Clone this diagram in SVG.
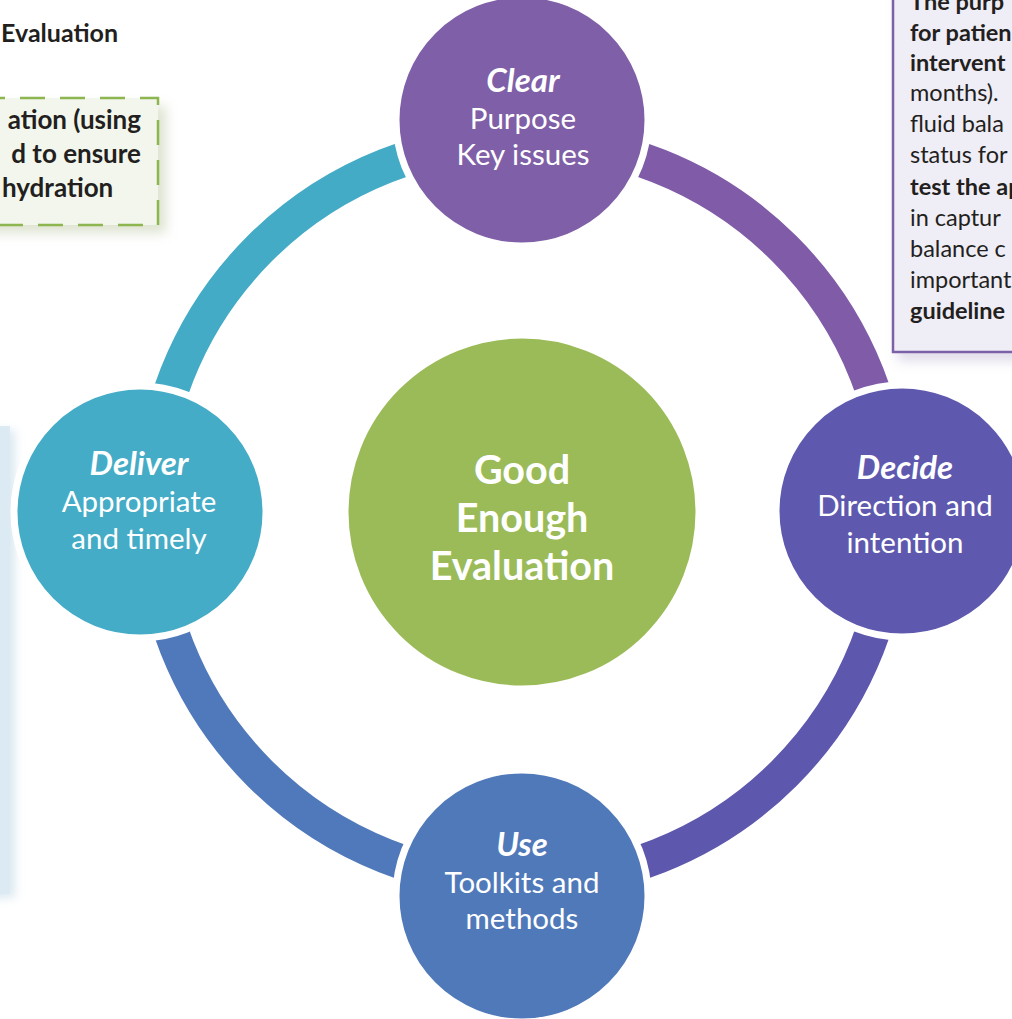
<svg xmlns="http://www.w3.org/2000/svg" width="1012" height="1019" viewBox="0 0 1012 1019">
<defs>
<filter id="shadow" x="-20%" y="-20%" width="150%" height="150%">
<feGaussianBlur in="SourceAlpha" stdDeviation="6"/>
<feOffset dx="8" dy="8" result="b"/>
<feFlood flood-color="#9fb07a" flood-opacity="0.35"/>
<feComposite in2="b" operator="in"/>
<feMerge><feMergeNode/><feMergeNode in="SourceGraphic"/></feMerge>
</filter>
<filter id="shadowP" x="-20%" y="-20%" width="150%" height="150%">
<feGaussianBlur in="SourceAlpha" stdDeviation="6"/>
<feOffset dx="6" dy="8" result="b"/>
<feFlood flood-color="#a99cc4" flood-opacity="0.35"/>
<feComposite in2="b" operator="in"/>
<feMerge><feMergeNode/><feMergeNode in="SourceGraphic"/></feMerge>
</filter>
<filter id="shadowB" x="-50%" y="-10%" width="300%" height="130%">
<feGaussianBlur in="SourceAlpha" stdDeviation="5"/>
<feOffset dx="5" dy="4" result="b"/>
<feFlood flood-color="#b8d3e3" flood-opacity="0.5"/>
<feComposite in2="b" operator="in"/>
<feMerge><feMergeNode/><feMergeNode in="SourceGraphic"/></feMerge>
</filter>
</defs>
<style>
.arc{fill:none;stroke-width:35;stroke-linecap:butt}
.node circle{stroke:#ffffff;stroke-width:7}
.t{font-family:Lato,"Liberation Sans",sans-serif;fill:#ffffff;text-anchor:middle}
.h{font-weight:bold;font-style:italic;font-size:33px}
.r{font-size:29.5px}
.c{font-weight:bold;font-size:39.5px}
.side{font-family:Lato,"Liberation Sans",sans-serif;fill:#231f20}
.b{font-weight:bold}
</style>
<rect width="1012" height="1019" fill="#ffffff"/>

<g id="side-panels">
<text class="side b" x="118" y="42" font-size="25" text-anchor="end">Evaluation</text>
<g id="green-box">
<rect x="-20" y="98" width="178" height="127" fill="#f2f6ec" filter="url(#shadow)"/>
<rect x="-20" y="98" width="178" height="127" fill="none" stroke="#8db651" stroke-width="2.5" stroke-dasharray="25 15"/>
<text class="side b" font-size="26" text-anchor="end" x="141" y="129">ation (using</text>
<text class="side b" font-size="26" text-anchor="end" x="141" y="163">d to ensure</text>
<text class="side b" font-size="26" x="2" y="197">hydration</text>
</g>
<g id="purple-box">
<rect x="893" y="-20" width="140" height="372" fill="#efedf5" stroke="#7b60a8" stroke-width="2.5" filter="url(#shadowP)"/>
<g font-size="23.5">
<text class="side b" x="910" y="10">The purp</text>
<text class="side b" x="910" y="41">for patien</text>
<text class="side b" x="910" y="71">intervent</text>
<text class="side" x="910" y="101">months).</text>
<text class="side" x="910" y="132">fluid bala</text>
<text class="side" x="910" y="163">status for</text>
<text class="side b" x="910" y="195">test the ap</text>
<text class="side" x="910" y="226">in captur</text>
<text class="side" x="910" y="257">balance c</text>
<text class="side" x="910" y="288">important</text>
<text class="side b" x="910" y="319">guideline</text>
</g>
</g>
<rect id="blue-box" x="-20" y="426" width="30" height="468" fill="#dcebf3" filter="url(#shadowB)"/>
</g>

<g id="connectors">
<path class="arc" stroke="#43abc6" d="M151,511 A371,371 0 0 1 522,140"/>
<path class="arc" stroke="#805ca8" d="M522,140 A371,371 0 0 1 893,511"/>
<path class="arc" stroke="#5d57ad" d="M893,511 A371,371 0 0 1 522,882"/>
<path class="arc" stroke="#4f79ba" d="M522,882 A371,371 0 0 1 151,511"/>
</g>

<g id="node-center" class="node">
<circle cx="522" cy="512" r="177" fill="#9bbb59" stroke="none"/>
<text class="t c" x="522" y="484">Good</text>
<text class="t c" x="522" y="532">Enough</text>
<text class="t c" x="522" y="580">Evaluation</text>
</g>

<g id="node-clear" class="node">
<circle cx="522" cy="120" r="126" fill="#7f5fa7"/>
<text class="t h" x="523" y="92">Clear</text>
<text class="t r" x="523" y="129">Purpose</text>
<text class="t r" x="523" y="165">Key issues</text>
</g>

<g id="node-decide" class="node">
<circle cx="902" cy="511" r="126" fill="#5e59ae"/>
<text class="t h" x="905" y="479">Decide</text>
<text class="t r" x="905" y="516">Direction and</text>
<text class="t r" x="905" y="553">intention</text>
</g>

<g id="node-use" class="node">
<circle cx="522" cy="896" r="126" fill="#5079ba"/>
<text class="t h" x="522" y="856">Use</text>
<text class="t r" x="522" y="893">Toolkits and</text>
<text class="t r" x="522" y="929">methods</text>
</g>

<g id="node-deliver" class="node">
<circle cx="140" cy="512" r="126" fill="#44acc6"/>
<text class="t h" x="139" y="475">Deliver</text>
<text class="t r" x="139" y="512">Appropriate</text>
<text class="t r" x="139" y="549">and timely</text>
</g>
</svg>
